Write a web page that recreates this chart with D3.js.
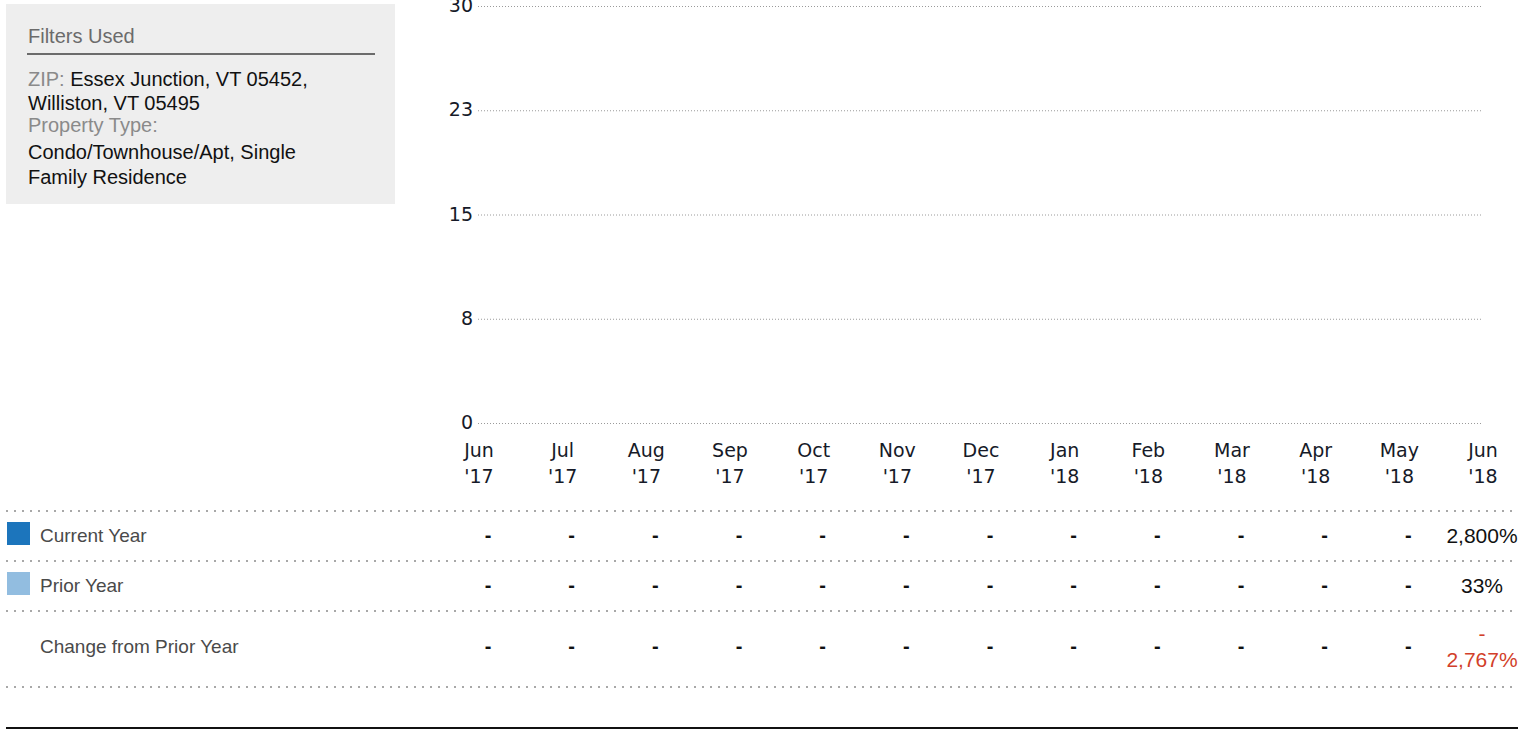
<!DOCTYPE html>
<meta charset="utf-8">
<head>
    <style>
        body { margin: 0; background: #fff; }
        .box-text { font-family: "Liberation Sans", Arial, sans-serif; font-size: 20px; }
        .tick-label { font-family: "DejaVu Sans", Verdana, sans-serif; font-size: 19px; fill: #161a28; }
        .row-label { font-family: "Liberation Sans", Arial, sans-serif; font-size: 19px; fill: #4a4a4a; }
        .cell { font-family: "Liberation Sans", Arial, sans-serif; font-size: 21px; fill: #111; }
        .dash { font-family: "Liberation Sans", Arial, sans-serif; font-size: 20px; font-weight: bold; fill: #111; }
    </style>
</head>

<script src="https://d3js.org/d3.v7.min.js"></script>

<div id="my_dataviz"></div>

<script>

    // months on the x axis
    var months = ["Jun '17", "Jul '17", "Aug '17", "Sep '17", "Oct '17", "Nov '17", "Dec '17",
                  "Jan '18", "Feb '18", "Mar '18", "Apr '18", "May '18", "Jun '18"];

    // y axis ticks as shown (rounded)
    var yTicks = [0, 7.5, 15, 22.5, 30];

    // chart series (nothing plotted in the picture)
    var chartCurrent = [null, null, null, null, null, null, null, null, null, null, null, null, null];
    var chartPrior   = [null, null, null, null, null, null, null, null, null, null, null, null, null];

    // table values in percent (null = "-")
    var currentYear = [null, null, null, null, null, null, null, null, null, null, null, null, 2800];
    var priorYear   = [null, null, null, null, null, null, null, null, null, null, null, null, 33];
    var changeYear  = [null, null, null, null, null, null, null, null, null, null, null, null, -2767];

    // filter box lines
    var filterLines = [
      {label: "ZIP: ", value: "Essex Junction, VT 05452,", y: 86},
      {label: "", value: "Williston, VT 05495", y: 110},
      {label: "Property Type:", value: "", y: 132},
      {label: "", value: "Condo/Townhouse/Apt, Single", y: 159},
      {label: "", value: "Family Residence", y: 184}
    ];

    var W = 1535, H = 729;

    var svg = d3.select("#my_dataviz")
      .append("svg")
        .attr("width", W)
        .attr("height", H);

    // ---- filter box
    svg.append("rect")
        .attr("x", 6).attr("y", 4)
        .attr("width", 389).attr("height", 200)
        .attr("fill", "#eeeeee");

    svg.append("text")
        .attr("class", "box-text")
        .attr("x", 28).attr("y", 43)
        .attr("fill", "#6b6b6b")
        .text("Filters Used");

    svg.append("line")
        .attr("x1", 27).attr("x2", 375)
        .attr("y1", 54).attr("y2", 54)
        .attr("stroke", "#6b6b6b")
        .attr("stroke-width", 2);

    var fl = svg.selectAll(".fline")
      .data(filterLines)
      .enter()
      .append("text")
        .attr("class", "box-text fline")
        .attr("x", 28)
        .attr("y", function(d) { return d.y; });
    fl.append("tspan")
        .attr("fill", "#8a8a8a")
        .text(function(d) { return d.label; });
    fl.append("tspan")
        .attr("fill", "#111")
        .text(function(d) { return d.value; });

    // ---- chart
    var x = d3.scalePoint()
      .domain(months)
      .range([478, 1482]);

    var y = d3.scaleLinear()
      .domain([0, 30])
      .range([423, 6]);

    // grid lines
    svg.selectAll(".grid")
      .data(yTicks)
      .enter()
      .append("line")
        .attr("x1", 478).attr("x2", 1481)
        .attr("y1", function(d) { return y(d) + 0.5; })
        .attr("y2", function(d) { return y(d) + 0.5; })
        .attr("stroke", "#9a9a9a")
        .attr("stroke-width", 1)
        .attr("stroke-dasharray", "1,2");

    // y labels
    svg.selectAll(".ylab")
      .data(yTicks)
      .enter()
      .append("text")
        .attr("class", "tick-label")
        .attr("text-anchor", "end")
        .attr("x", 473)
        .attr("y", function(d) { return y(d) + 6; })
        .text(function(d) { return Math.round(d); });

    // x labels, two lines
    var xl = svg.selectAll(".xlab")
      .data(months)
      .enter()
      .append("text")
        .attr("class", "tick-label")
        .attr("text-anchor", "middle")
        .attr("transform", function(d) { return "translate(" + (x(d) + 1) + ",0)"; });
    xl.append("tspan")
        .attr("x", 0).attr("y", 457)
        .text(function(d) { return d.split(" ")[0]; });
    xl.append("tspan")
        .attr("x", 0).attr("y", 483)
        .text(function(d) { return d.split(" ")[1]; });

    // bars (only where there is a value)
    var bw = 20;
    var barData = [];
    months.forEach(function(m, i) {
      if (chartPrior[i] != null) barData.push({m: m, v: chartPrior[i], off: -bw, c: "#92bde0"});
      if (chartCurrent[i] != null) barData.push({m: m, v: chartCurrent[i], off: 0, c: "#1c75bc"});
    });
    svg.selectAll(".bar")
      .data(barData)
      .enter()
      .append("rect")
        .attr("x", function(d) { return x(d.m) + d.off; })
        .attr("y", function(d) { return y(d.v); })
        .attr("width", bw)
        .attr("height", function(d) { return y(0) - y(d.v); })
        .attr("fill", function(d) { return d.c; });

    // ---- table
    var rowLines = [511, 561, 611, 687];
    svg.selectAll(".rowline")
      .data(rowLines)
      .enter()
      .append("line")
        .attr("x1", 6).attr("x2", 1518)
        .attr("y1", function(d) { return d; })
        .attr("y2", function(d) { return d; })
        .attr("stroke", "#a8a8a8")
        .attr("stroke-width", 2)
        .attr("stroke-dasharray", "2,6");

    svg.append("line")
        .attr("x1", 6).attr("x2", 1518)
        .attr("y1", 728).attr("y2", 728)
        .attr("stroke", "#111")
        .attr("stroke-width", 2);

    var rows = [
      {name: "Current Year", values: currentYear, swatch: "#1c75bc", y: 542},
      {name: "Prior Year", values: priorYear, swatch: "#92bde0", y: 592},
      {name: "Change from Prior Year", values: changeYear, swatch: null, y: 653}
    ];

    var fmt = d3.format(",");

    rows.forEach(function(r) {
      if (r.swatch) {
        svg.append("rect")
            .attr("x", 7).attr("y", r.y - 20)
            .attr("width", 23).attr("height", 23)
            .attr("fill", r.swatch);
      }
      svg.append("text")
          .attr("class", "row-label")
          .attr("x", 40).attr("y", r.y)
          .text(r.name);

      r.values.forEach(function(v, i) {
        var cx = x(months[i]);
        if (v == null) {
          svg.append("text")
              .attr("class", "dash")
              .attr("text-anchor", "middle")
              .attr("x", cx + 10).attr("y", r.y)
              .text("-");
        } else if (v < 0) {
          var t = svg.append("text")
              .attr("class", "cell")
              .attr("text-anchor", "middle")
              .style("fill", "#d23f2a");
          t.append("tspan").attr("x", cx).attr("y", r.y - 12).text("-");
          t.append("tspan").attr("x", cx).attr("y", r.y + 14).text(fmt(-v) + "%");
        } else {
          svg.append("text")
              .attr("class", "cell")
              .attr("text-anchor", "middle")
              .attr("x", cx).attr("y", r.y + 1)
              .text(fmt(v) + "%");
        }
      });
    });

</script>
